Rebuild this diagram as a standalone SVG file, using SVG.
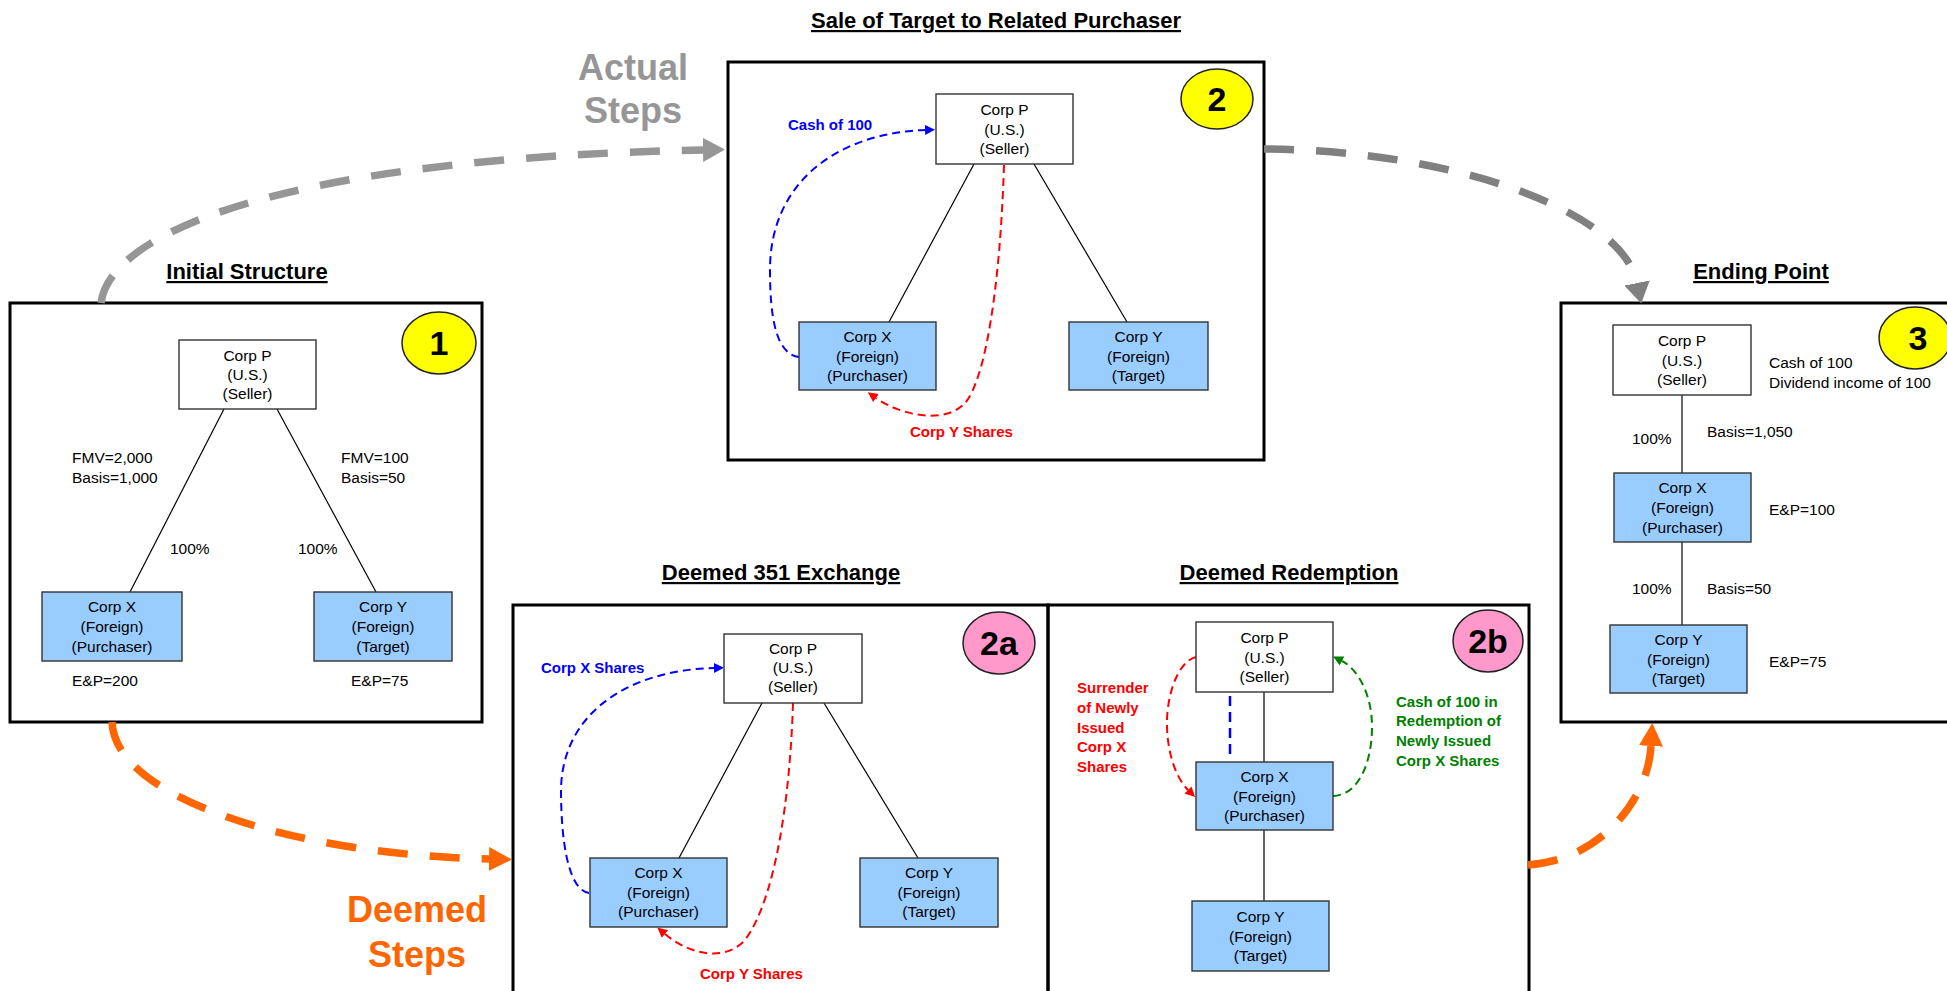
<svg xmlns="http://www.w3.org/2000/svg" width="1947" height="991" viewBox="0 0 1947 991">
<defs>
<style>
text{font-family:"Liberation Sans",Arial,sans-serif}
.panel{fill:none;stroke:#000;stroke-width:3}
.node{stroke:#333;stroke-width:1.4}
.w{fill:#fff}
.b{fill:#99CCFF}
.nt{font-size:15.5px;text-anchor:middle;fill:#000}
.lt{font-size:15.5px;fill:#000}
.title{font-size:22px;font-weight:bold;text-anchor:middle;text-decoration:underline;fill:#000}
.tree{stroke:#000;stroke-width:1.2;fill:none}
.badgeY{fill:#FFFF00;stroke:#222;stroke-width:1.5}
.badgeP{fill:#FF99CC;stroke:#222;stroke-width:1.5}
.bt{font-size:34px;font-weight:bold;text-anchor:middle;fill:#000}
.lbl{font-size:15px;font-weight:bold}
.big{font-size:36px;font-weight:bold;text-anchor:middle}
.dblue{stroke:#0000FF;stroke-width:2;fill:none;stroke-dasharray:8 5}
.dred{stroke:#FF0000;stroke-width:2;fill:none;stroke-dasharray:8 5}
.dgreen{stroke:#008000;stroke-width:2;fill:none;stroke-dasharray:8 5}
.gray1{stroke:#969696;stroke-width:7.5;fill:none;stroke-dasharray:30 22}
.gray2{stroke:#808080;stroke-width:7.5;fill:none;stroke-dasharray:30 22}
.orange{stroke:#FF6600;stroke-width:7.5;fill:none;stroke-dasharray:30 22}
</style>
<marker id="mBlue" markerUnits="userSpaceOnUse" markerWidth="12" markerHeight="12" refX="0" refY="5" orient="auto" viewBox="0 0 12 10"><path d="M0,0 L10,5 L0,10 z" fill="#0000FF"/></marker>
<marker id="mRed" markerUnits="userSpaceOnUse" markerWidth="12" markerHeight="12" refX="0" refY="5" orient="auto" viewBox="0 0 12 10"><path d="M0,0 L10,5 L0,10 z" fill="#FF0000"/></marker>
<marker id="mGreen" markerUnits="userSpaceOnUse" markerWidth="12" markerHeight="12" refX="0" refY="5" orient="auto" viewBox="0 0 12 10"><path d="M0,0 L10,5 L0,10 z" fill="#008000"/></marker>
<marker id="mGray1" markerUnits="userSpaceOnUse" markerWidth="24" markerHeight="24" refX="0" refY="12" orient="auto" viewBox="0 0 24 24"><path d="M0,0 L22,12 L0,24 z" fill="#969696"/></marker>
<marker id="mGray2" markerUnits="userSpaceOnUse" markerWidth="24" markerHeight="26" refX="0" refY="13" orient="auto" viewBox="0 0 24 26"><path d="M0,0 L21,13 L0,26 z" fill="#808080"/></marker>
<marker id="mOrange" markerUnits="userSpaceOnUse" markerWidth="24" markerHeight="24" refX="0" refY="12" orient="auto" viewBox="0 0 24 24"><path d="M0,0 L23,12 L0,24 z" fill="#FF6600"/></marker>
</defs>
<rect width="1947" height="991" fill="#fff"/>

<!-- panels -->
<g id="panels">
<rect class="panel" x="10" y="303" width="472" height="419"/>
<rect class="panel" x="728" y="62" width="536" height="398"/>
<rect class="panel" x="1561" y="303" width="400" height="419"/>
<rect class="panel" x="513" y="605" width="535" height="400"/>
<rect class="panel" x="1048" y="605" width="481" height="400"/>
</g>

<!-- titles -->
<g id="titles">
<text class="title" x="247" y="279">Initial Structure</text>
<text class="title" x="996" y="28">Sale of Target to Related Purchaser</text>
<text class="title" x="1761" y="279">Ending Point</text>
<text class="title" x="781" y="580">Deemed 351 Exchange</text>
<text class="title" x="1289" y="580">Deemed Redemption</text>
<text class="big" x="633" y="80" fill="#969696">Actual</text>
<text class="big" x="633" y="123" fill="#969696">Steps</text>
<text class="big" x="417" y="922" fill="#FF6600">Deemed</text>
<text class="big" x="417" y="967" fill="#FF6600">Steps</text>
</g>

<!-- connectors -->
<g id="connectors">
<!-- panel 1 tree -->
<line class="tree" x1="224" y1="409" x2="130" y2="592"/>
<line class="tree" x1="277" y1="409" x2="376" y2="592"/>
<!-- panel 2 tree -->
<line class="tree" x1="974" y1="164" x2="889" y2="322"/>
<line class="tree" x1="1034" y1="164" x2="1127" y2="322"/>
<!-- panel 3 tree -->
<line class="tree" x1="1682" y1="395" x2="1682" y2="473"/>
<line class="tree" x1="1682" y1="542" x2="1682" y2="625"/>
<!-- panel 2a tree -->
<line class="tree" x1="762" y1="703" x2="679" y2="858"/>
<line class="tree" x1="824" y1="703" x2="918" y2="858"/>
<!-- panel 2b tree -->
<line class="tree" x1="1264" y1="692" x2="1264" y2="762"/>
<line class="tree" x1="1264" y1="830" x2="1264" y2="901"/>

<!-- big flow arrows -->
<path class="gray1" d="M101,303 C110,232 285,158 703,150" marker-end="url(#mGray1)"/>
<path class="gray2" d="M1264,149 C1450,150 1622,210 1637,283" marker-end="url(#mGray2)"/>
<path class="orange" d="M112,722 C115,800 300,855 489,859" marker-end="url(#mOrange)"/>
<path class="orange" d="M1528,865 C1600,860 1648,800 1651,746" marker-end="url(#mOrange)"/>

<!-- panel 2 flows -->
<path class="dblue" d="M799,357 C776,354 770,318 770,270 C770,180 840,133 925,130" marker-end="url(#mBlue)"/>
<path class="dred" d="M1004,165 C1000,290 985,380 965,403 C945,425 900,415 876,398" marker-end="url(#mRed)"/>
<!-- panel 2a flows -->
<path class="dblue" d="M589,893 C568,890 561,840 561,790 C562,712 630,670 714,668" marker-end="url(#mBlue)"/>
<path class="dred" d="M793,703 C790,800 775,900 745,940 C725,962 690,955 665,934" marker-end="url(#mRed)"/>
<!-- panel 2b flows -->
<path class="dred" d="M1196,657 C1176,662 1166,700 1167,727 C1168,758 1178,780 1188,790" marker-end="url(#mRed)"/>
<path class="dgreen" d="M1333,796 C1360,795 1372,760 1372,727 C1372,692 1356,668 1342,661" marker-end="url(#mGreen)"/>
<line x1="1230" y1="696" x2="1230" y2="754" stroke="#0000FF" stroke-width="2.5" stroke-dasharray="10 6"/>
</g>

<!-- Panel 1 nodes -->
<g id="p1-corpP">
<rect class="node w" x="179" y="340" width="137" height="69"/>
<text class="nt" x="247.5" y="361">Corp P</text>
<text class="nt" x="247.5" y="380">(U.S.)</text>
<text class="nt" x="247.5" y="399">(Seller)</text>
</g>
<g id="p1-corpX">
<rect class="node b" x="42" y="592" width="140" height="69"/>
<text class="nt" x="112" y="612">Corp X</text>
<text class="nt" x="112" y="632">(Foreign)</text>
<text class="nt" x="112" y="652">(Purchaser)</text>
</g>
<g id="p1-corpY">
<rect class="node b" x="314" y="592" width="138" height="69"/>
<text class="nt" x="383" y="612">Corp Y</text>
<text class="nt" x="383" y="632">(Foreign)</text>
<text class="nt" x="383" y="652">(Target)</text>
</g>
<g id="p1-labels">
<text class="lt" x="72" y="463">FMV=2,000</text>
<text class="lt" x="72" y="483">Basis=1,000</text>
<text class="lt" x="341" y="463">FMV=100</text>
<text class="lt" x="341" y="483">Basis=50</text>
<text class="lt" x="170" y="554">100%</text>
<text class="lt" x="298" y="554">100%</text>
<text class="lt" x="72" y="686">E&amp;P=200</text>
<text class="lt" x="351" y="686">E&amp;P=75</text>
</g>
<g id="badge1">
<ellipse class="badgeY" cx="439" cy="343" rx="37" ry="31"/>
<text class="bt" x="439" y="355">1</text>
</g>

<!-- Panel 2 nodes -->
<g id="p2-corpP">
<rect class="node w" x="936" y="94" width="137" height="70"/>
<text class="nt" x="1004.5" y="115">Corp P</text>
<text class="nt" x="1004.5" y="135">(U.S.)</text>
<text class="nt" x="1004.5" y="154">(Seller)</text>
</g>
<g id="p2-corpX">
<rect class="node b" x="799" y="322" width="137" height="68"/>
<text class="nt" x="867.5" y="342">Corp X</text>
<text class="nt" x="867.5" y="362">(Foreign)</text>
<text class="nt" x="867.5" y="381">(Purchaser)</text>
</g>
<g id="p2-corpY">
<rect class="node b" x="1069" y="322" width="139" height="68"/>
<text class="nt" x="1138.5" y="342">Corp Y</text>
<text class="nt" x="1138.5" y="362">(Foreign)</text>
<text class="nt" x="1138.5" y="381">(Target)</text>
</g>
<g id="p2-labels">
<text class="lbl" x="788" y="130" fill="#0000FF">Cash of 100</text>
<text class="lbl" x="910" y="437" fill="#FF0000">Corp Y Shares</text>
</g>
<g id="badge2">
<ellipse class="badgeY" cx="1217" cy="99" rx="36" ry="30"/>
<text class="bt" x="1217" y="111">2</text>
</g>

<!-- Panel 3 nodes -->
<g id="p3-corpP">
<rect class="node w" x="1613" y="325" width="138" height="70"/>
<text class="nt" x="1682" y="346">Corp P</text>
<text class="nt" x="1682" y="366">(U.S.)</text>
<text class="nt" x="1682" y="385">(Seller)</text>
</g>
<g id="p3-corpX">
<rect class="node b" x="1614" y="473" width="137" height="69"/>
<text class="nt" x="1682.5" y="493">Corp X</text>
<text class="nt" x="1682.5" y="513">(Foreign)</text>
<text class="nt" x="1682.5" y="533">(Purchaser)</text>
</g>
<g id="p3-corpY">
<rect class="node b" x="1610" y="625" width="137" height="68"/>
<text class="nt" x="1678.5" y="645">Corp Y</text>
<text class="nt" x="1678.5" y="665">(Foreign)</text>
<text class="nt" x="1678.5" y="684">(Target)</text>
</g>
<g id="p3-labels">
<text class="lt" x="1769" y="368">Cash of 100</text>
<text class="lt" x="1769" y="388">Dividend income of 100</text>
<text class="lt" x="1632" y="444">100%</text>
<text class="lt" x="1707" y="437">Basis=1,050</text>
<text class="lt" x="1769" y="515">E&amp;P=100</text>
<text class="lt" x="1632" y="594">100%</text>
<text class="lt" x="1707" y="594">Basis=50</text>
<text class="lt" x="1769" y="667">E&amp;P=75</text>
</g>
<g id="badge3">
<ellipse class="badgeY" cx="1915" cy="338" rx="36" ry="31"/>
<text class="bt" x="1918" y="350">3</text>
</g>

<!-- Panel 2a nodes -->
<g id="p2a-corpP">
<rect class="node w" x="724" y="634" width="138" height="69"/>
<text class="nt" x="793" y="654">Corp P</text>
<text class="nt" x="793" y="673">(U.S.)</text>
<text class="nt" x="793" y="692">(Seller)</text>
</g>
<g id="p2a-corpX">
<rect class="node b" x="590" y="858" width="137" height="69"/>
<text class="nt" x="658.5" y="878">Corp X</text>
<text class="nt" x="658.5" y="898">(Foreign)</text>
<text class="nt" x="658.5" y="917">(Purchaser)</text>
</g>
<g id="p2a-corpY">
<rect class="node b" x="860" y="858" width="138" height="69"/>
<text class="nt" x="929" y="878">Corp Y</text>
<text class="nt" x="929" y="898">(Foreign)</text>
<text class="nt" x="929" y="917">(Target)</text>
</g>
<g id="p2a-labels">
<text class="lbl" x="541" y="673" fill="#0000FF">Corp X Shares</text>
<text class="lbl" x="700" y="979" fill="#FF0000">Corp Y Shares</text>
</g>
<g id="badge2a">
<ellipse class="badgeP" cx="999" cy="643" rx="36" ry="31"/>
<text class="bt" x="999" y="655">2a</text>
</g>

<!-- Panel 2b nodes -->
<g id="p2b-corpP">
<rect class="node w" x="1196" y="622" width="137" height="70"/>
<text class="nt" x="1264.5" y="643">Corp P</text>
<text class="nt" x="1264.5" y="663">(U.S.)</text>
<text class="nt" x="1264.5" y="682">(Seller)</text>
</g>
<g id="p2b-corpX">
<rect class="node b" x="1196" y="762" width="137" height="68"/>
<text class="nt" x="1264.5" y="782">Corp X</text>
<text class="nt" x="1264.5" y="802">(Foreign)</text>
<text class="nt" x="1264.5" y="821">(Purchaser)</text>
</g>
<g id="p2b-corpY">
<rect class="node b" x="1192" y="901" width="137" height="70"/>
<text class="nt" x="1260.5" y="922">Corp Y</text>
<text class="nt" x="1260.5" y="942">(Foreign)</text>
<text class="nt" x="1260.5" y="961">(Target)</text>
</g>
<g id="p2b-labels">
<text class="lbl" x="1077" y="693" fill="#FF0000">Surrender</text>
<text class="lbl" x="1077" y="713" fill="#FF0000">of Newly</text>
<text class="lbl" x="1077" y="733" fill="#FF0000">Issued</text>
<text class="lbl" x="1077" y="752" fill="#FF0000">Corp X</text>
<text class="lbl" x="1077" y="772" fill="#FF0000">Shares</text>
<text class="lbl" x="1396" y="707" fill="#008000">Cash of 100 in</text>
<text class="lbl" x="1396" y="726" fill="#008000">Redemption of</text>
<text class="lbl" x="1396" y="746" fill="#008000">Newly Issued</text>
<text class="lbl" x="1396" y="766" fill="#008000">Corp X Shares</text>
</g>
<g id="badge2b">
<ellipse class="badgeP" cx="1488" cy="641" rx="35" ry="31"/>
<text class="bt" x="1488" y="653">2b</text>
</g>
</svg>
